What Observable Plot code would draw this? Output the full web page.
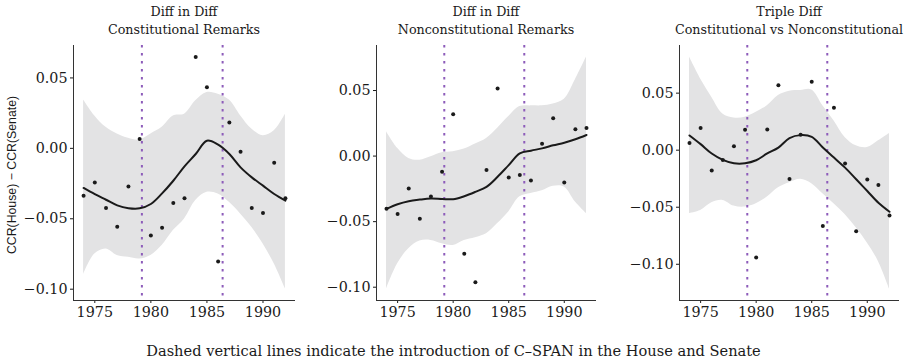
<!DOCTYPE html>
<html>
<head>
<meta charset="utf-8">
<script src="https://cdn.jsdelivr.net/npm/d3@7"></script>
<script src="https://cdn.jsdelivr.net/npm/@observablehq/plot@0.6"></script>
<style>
  html, body { margin: 0; padding: 0; background: #fff; }
  #root { position: relative; width: 907px; height: 363px; font-family: "DejaVu Serif", serif; color: #1a1a1a; }
  .panel { position: absolute; top: 40px; }
  .title { position: absolute; top: 3px; text-align: center; font-size: 12.7px; line-height: 18px; }
  .ylab { position: absolute; left: 12px; top: 175px; transform: translate(-50%, -50%) rotate(-90deg); font-family: "Liberation Sans", sans-serif; font-size: 12.3px; white-space: nowrap; }
  .caption { position: absolute; top: 342px; left: 0; width: 907px; text-align: center; font-size: 14.6px; }
</style>
</head>
<body>
<div id="root"></div>
<script>
const years = [1974,1975,1976,1977,1978,1979,1980,1981,1982,1983,1984,1985,1986,1987,1988,1989,1990,1991,1992];
const cspanDates = [1979.2, 1986.4];
const titles = [
  ["Diff in Diff", "Constitutional Remarks"],
  ["Diff in Diff", "Nonconstitutional Remarks"],
  ["Triple Diff", "Constitutional vs Nonconstitutional"]
];
const yTicks = [-0.10, -0.05, 0.00, 0.05];
const xTicks = [1975, 1980, 1985, 1990];

// Panel 1: Diff in Diff, Constitutional Remarks
const p1Points = [-0.0336,-0.0243,-0.0423,-0.0556,-0.0270,0.0066,-0.0619,-0.0563,-0.0388,-0.0355,0.0648,0.0433,-0.0804,0.0184,-0.0024,-0.0423,-0.0459,-0.0102,-0.0355];
const p1Smooth = [-0.0281,-0.0325,-0.0365,-0.0405,-0.0425,-0.0426,-0.0395,-0.0320,-0.0230,-0.0128,-0.0040,0.0054,0.0026,-0.0040,-0.0135,-0.0206,-0.0265,-0.0324,-0.0371];
const p1Upper = [0.0343,0.0230,0.0149,0.0102,0.0071,0.0059,0.0102,0.0149,0.0230,0.0243,0.0338,0.0397,0.0385,0.0343,0.0232,0.0137,0.0090,0.0125,0.0243];
const p1Lower = [-0.0896,-0.0750,-0.0714,-0.0760,-0.0773,-0.0785,-0.0760,-0.0690,-0.0584,-0.0501,-0.0371,-0.0312,-0.0324,-0.0383,-0.0466,-0.0560,-0.0678,-0.0820,-0.0998];

// Panel 2: Diff in Diff, Nonconstitutional Remarks
const p2Points = [-0.0401,-0.0441,-0.0247,-0.0477,-0.0309,-0.0120,0.0319,-0.0745,-0.0962,-0.0107,0.0515,-0.0163,-0.0145,-0.0186,0.0094,0.0288,-0.0202,0.0204,0.0214];
const p2Smooth = [-0.0403,-0.0367,-0.0344,-0.0332,-0.0324,-0.0327,-0.0329,-0.0306,-0.0273,-0.0235,-0.0158,-0.0069,0.0020,0.0041,0.0059,0.0082,0.0102,0.0128,0.0161];
const p2Upper = [0.0186,0.0059,-0.0018,-0.0031,-0.0005,0.0026,0.0033,0.0054,0.0092,0.0135,0.0212,0.0301,0.0378,0.0383,0.0383,0.0398,0.0434,0.0582,0.0755];
const p2Lower = [-0.1013,-0.0821,-0.0707,-0.0648,-0.0643,-0.0668,-0.0681,-0.0643,-0.0622,-0.0592,-0.0515,-0.0426,-0.0311,-0.0286,-0.0265,-0.0230,-0.0235,-0.0350,-0.0439];

// Panel 3: Triple Diff, Constitutional vs Nonconstitutional
const p3Points = [0.0062,0.0194,-0.0179,-0.0085,0.0035,0.0179,-0.0940,0.0182,0.0570,-0.0253,0.0135,0.0599,-0.0664,0.0373,-0.0117,-0.0711,-0.0258,-0.0305,-0.0573];
const p3Smooth = [0.0129,0.0053,-0.0029,-0.0085,-0.0115,-0.0115,-0.0088,-0.0029,0.0023,0.0106,0.0132,0.0117,0.0023,-0.0065,-0.0153,-0.0255,-0.0358,-0.0461,-0.0540];
const p3Upper = [0.0816,0.0625,0.0464,0.0317,0.0282,0.0288,0.0332,0.0390,0.0479,0.0517,0.0523,0.0528,0.0390,0.0258,0.0112,0.0038,0.0023,0.0082,0.0147];
const p3Lower = [-0.0555,-0.0528,-0.0461,-0.0440,-0.0490,-0.0499,-0.0470,-0.0411,-0.0329,-0.0285,-0.0255,-0.0294,-0.0382,-0.0470,-0.0564,-0.0681,-0.0813,-0.0975,-0.1216];

const caption = "Dashed vertical lines indicate the introduction of C\u2013SPAN in the House and Senate";
const yLabel = "CCR(House) \u2212 CCR(Senate)";

const panels = [
  {points: p1Points, smooth: p1Smooth, upper: p1Upper, lower: p1Lower, left: 0, marginLeft: 73, marginRight: 7},
  {points: p2Points, smooth: p2Smooth, upper: p2Upper, lower: p2Lower, left: 302, marginLeft: 74, marginRight: 8},
  {points: p3Points, smooth: p3Smooth, upper: p3Upper, lower: p3Lower, left: 604, marginLeft: 75, marginRight: 8}
];

const root = document.getElementById("root");
const xDomain = [1973.1, 1992.9];

panels.forEach((p, i) => {
  const rows = years.map((yr, j) => ({year: yr, value: p.points[j], fit: p.smooth[j], hi: p.upper[j], lo: p.lower[j]}));
  const all = p.points.concat(p.upper, p.lower);
  const mn = d3.min(all), mx = d3.max(all);
  const pad = (mx - mn) * 0.05;
  const yDomain = [mn - pad, mx + pad];
  const width = (i === 2 ? 303 : 302);
  const chart = Plot.plot({
    width: width,
    height: 290,
    marginLeft: p.marginLeft,
    marginRight: p.marginRight,
    marginTop: 5,
    marginBottom: 30,
    style: {fontFamily: "DejaVu Serif, serif", fontSize: "14.3px", color: "#1a1a1a", background: "#fff"},
    x: {domain: xDomain, ticks: xTicks, tickFormat: d3.format("d"), tickSize: 3, tickPadding: 3, label: null},
    y: {domain: yDomain, ticks: yTicks, tickFormat: d3.format(".2f"), tickSize: 3, tickPadding: 3, label: null},
    marks: [
      Plot.areaY(rows, {x: "year", y1: "lo", y2: "hi", fill: "#e3e3e4", curve: "catmull-rom"}),
      Plot.ruleX(cspanDates, {stroke: "#8d5cba", strokeWidth: 2, strokeDasharray: "2.5,5.5"}),
      Plot.line(rows, {x: "year", y: "fit", stroke: "#1a1a1a", strokeWidth: 2, curve: "catmull-rom"}),
      Plot.dot(rows, {x: "year", y: "value", r: 2, fill: "#1a1a1a", stroke: "none"}),
      Plot.ruleX([xDomain[0]], {stroke: "#333", strokeWidth: 1}),
      Plot.ruleY([yDomain[0]], {stroke: "#333", strokeWidth: 1})
    ]
  });
  const wrap = document.createElement("div");
  wrap.className = "panel";
  wrap.style.left = p.left + "px";
  wrap.appendChild(chart);
  root.appendChild(wrap);

  const t = document.createElement("div");
  t.className = "title";
  const plotLeft = p.left + p.marginLeft;
  const plotRight = p.left + width - p.marginRight;
  const cx = (plotLeft + plotRight) / 2;
  t.style.left = (cx - 150) + "px";
  t.style.width = "300px";
  t.innerHTML = titles[i].map(s => `<div>${s}</div>`).join("");
  root.appendChild(t);
});

const yl = document.createElement("div");
yl.className = "ylab";
yl.textContent = yLabel;
root.appendChild(yl);

const cap = document.createElement("div");
cap.className = "caption";
cap.textContent = caption;
root.appendChild(cap);
</script>
</body>
</html>
